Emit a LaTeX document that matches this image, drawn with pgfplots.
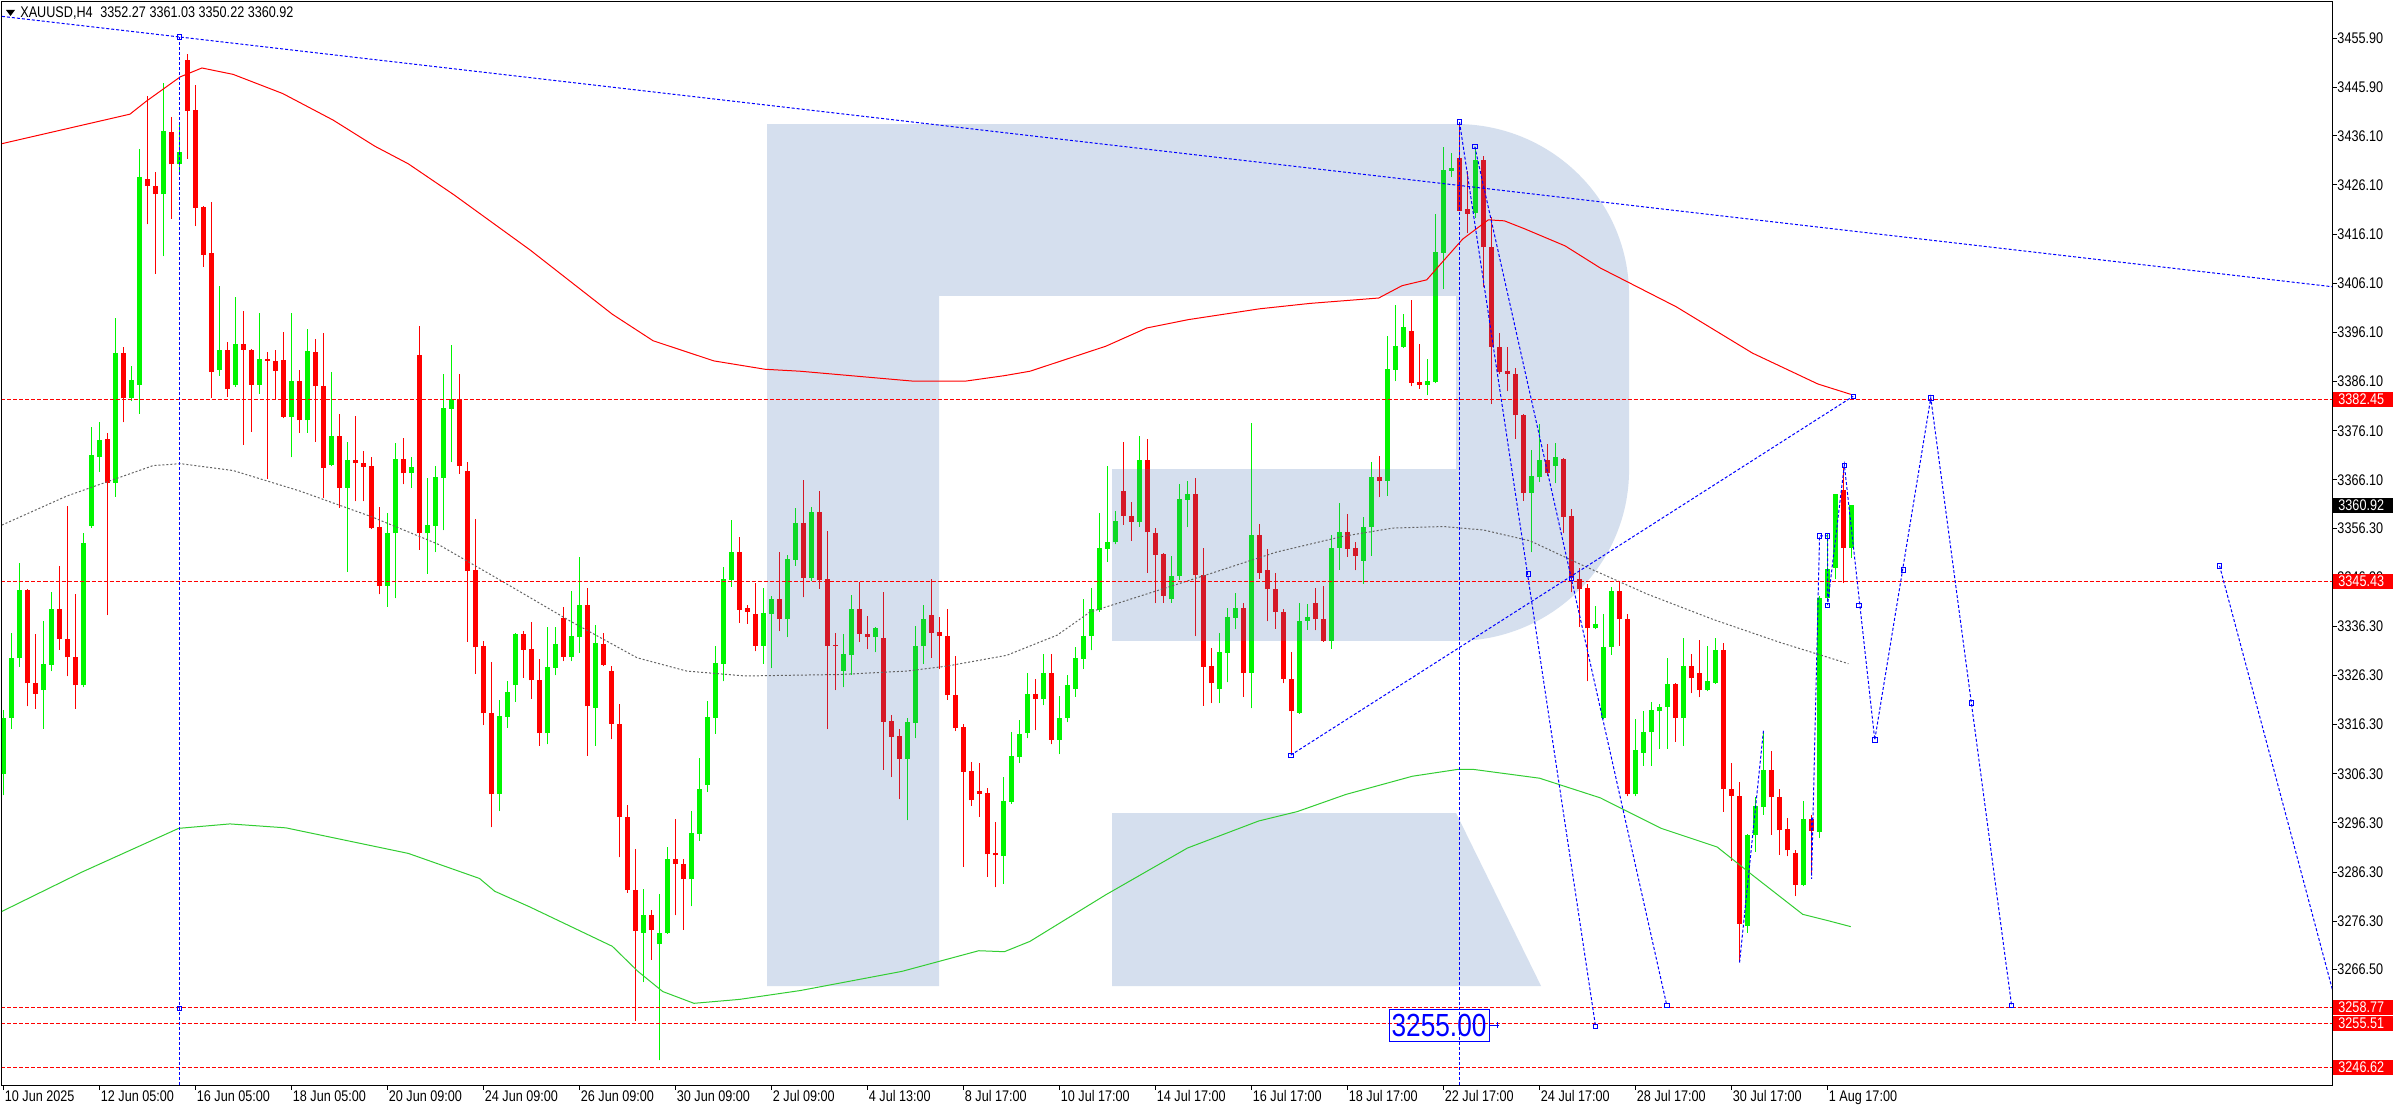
\documentclass[border=0pt]{standalone}
\usepackage{fontspec}
\setmainfont{Liberation Sans}
\newfontfamily\tickfont{Liberation Sans}[FakeStretch=0.82]
\usepackage{pgfplots}
\usepackage{pgfplotstable}
\pgfplotsset{compat=1.18}
\newcommand\tf{\tickfont\fontsize{7.7pt}{9pt}\selectfont}
\definecolor{cgreen}{RGB}{0,245,0}
\definecolor{cred}{RGB}{255,0,0}
\definecolor{logoblue}{RGB}{64,113,182}
\definecolor{bandgreen}{RGB}{50,205,50}
\definecolor{midgray}{RGB}{100,100,100}
\definecolor{lblue}{RGB}{0,0,255}
\pgfplotsset{candle/.style={only marks, mark size=0pt, mark options={draw=none, fill=none}}}

\pgfplotstableread{
i o h l c
0 3306.2 3319.3 3301.9 3317.7
1 3317.7 3334.9 3315.5 3329.9
2 3329.8 3349.2 3328.1 3343.7
3 3343.7 3343.9 3320.0 3324.7
4 3324.8 3334.8 3319.5 3322.6
5 3323.3 3337.4 3315.5 3328.6
6 3328.5 3343.3 3327.2 3339.9
7 3339.9 3348.6 3331.5 3333.7
8 3333.7 3360.8 3326.1 3330.0
9 3330.0 3342.9 3319.5 3324.3
10 3324.3 3355.3 3323.9 3353.2
11 3356.7 3376.8 3356.4 3371.1
12 3370.8 3377.9 3367.8 3374.2
13 3374.4 3375.7 3338.6 3365.5
14 3365.5 3399.0 3362.7 3392.0
15 3392.0 3393.1 3377.8 3382.7
16 3382.7 3389.3 3382.1 3386.5
17 3385.5 3433.4 3379.6 3427.7
18 3427.4 3444.3 3418.1 3425.9
19 3425.9 3428.7 3408.0 3424.2
20 3424.2 3446.9 3411.6 3437.1
21 3436.8 3439.9 3419.2 3430.3
22 3430.3 3439.0 3428.4 3432.9
23 3451.6 3452.8 3431.4 3441.2
24 3441.3 3446.4 3417.7 3421.5
25 3421.6 3421.8 3409.5 3411.9
26 3412.2 3422.6 3382.8 3388.0
27 3388.5 3405.5 3387.3 3392.6
28 3392.6 3394.2 3383.0 3384.5
29 3385.3 3403.3 3385.0 3393.7
30 3393.7 3400.5 3373.2 3392.6
31 3392.6 3392.8 3375.9 3385.5
32 3385.5 3400.0 3383.6 3390.7
33 3390.7 3392.1 3366.3 3390.3
34 3390.3 3392.6 3382.4 3388.2
35 3390.5 3396.2 3378.6 3378.9
36 3378.9 3400.0 3370.7 3386.2
37 3386.2 3388.5 3375.7 3378.2
38 3378.2 3396.8 3375.7 3392.3
39 3392.1 3394.8 3373.9 3385.1
40 3385.2 3395.9 3362.5 3368.6
41 3369.1 3388.1 3368.9 3375.1
42 3375.1 3379.5 3360.4 3364.5
43 3364.5 3373.9 3347.4 3370.2
44 3370.2 3379.1 3361.7 3369.5
45 3369.6 3371.9 3361.7 3368.7
46 3369.0 3370.7 3356.2 3356.4
47 3356.5 3360.5 3342.8 3344.6
48 3344.6 3359.4 3340.3 3355.2
49 3355.2 3373.7 3342.0 3370.3
50 3370.3 3374.6 3365.2 3367.4
51 3367.4 3370.7 3364.5 3368.8
52 3391.5 3397.5 3351.9 3355.2
53 3355.2 3366.4 3347.0 3357.0
54 3356.7 3369.0 3351.4 3366.7
55 3366.5 3387.7 3355.8 3380.7
56 3380.6 3393.5 3369.7 3382.5
57 3382.5 3387.7 3367.3 3368.9
58 3367.9 3369.8 3333.2 3347.6
59 3347.8 3358.1 3326.7 3332.0
60 3332.3 3333.3 3316.2 3318.6
61 3318.6 3329.1 3295.4 3302.1
62 3302.1 3321.4 3298.7 3318.1
63 3317.9 3325.1 3315.7 3322.9
64 3324.3 3334.9 3321.0 3334.7
65 3334.7 3335.4 3325.8 3331.5
66 3331.6 3337.2 3321.6 3325.3
67 3325.3 3329.7 3312.0 3314.5
68 3314.5 3336.1 3312.3 3328.1
69 3327.9 3336.1 3326.3 3332.7
70 3338.0 3340.3 3329.2 3330.1
71 3330.1 3343.4 3329.2 3334.3
72 3334.1 3350.4 3330.9 3340.6
73 3340.6 3344.1 3310.0 3320.0
74 3319.7 3336.5 3312.0 3332.9
75 3332.7 3335.0 3328.2 3328.5
76 3327.2 3328.2 3313.3 3316.5
77 3316.5 3320.5 3289.3 3297.5
78 3297.5 3299.9 3282.1 3282.7
79 3282.7 3291.0 3256.0 3274.3
80 3274.0 3282.8 3263.9 3277.5
81 3277.5 3278.5 3268.5 3274.5
82 3271.6 3281.8 3248.0 3274.0
83 3274.0 3291.4 3273.8 3289.0
84 3289.0 3297.0 3277.5 3287.9
85 3287.9 3289.0 3274.6 3284.8
86 3284.8 3298.8 3279.3 3294.3
87 3294.1 3309.6 3292.7 3303.3
88 3304.1 3321.2 3302.6 3317.8
89 3317.7 3332.3 3314.4 3328.8
90 3328.7 3348.3 3325.1 3346.0
91 3345.8 3357.9 3344.4 3351.4
92 3351.5 3354.4 3337.0 3339.7
93 3340.1 3340.7 3336.8 3339.3
94 3338.8 3345.1 3331.2 3332.4
95 3332.4 3344.1 3328.7 3339.0
96 3338.8 3342.5 3327.8 3341.9
97 3341.9 3351.4 3335.3 3337.7
98 3337.7 3350.8 3334.1 3350.0
99 3349.8 3360.3 3348.6 3357.3
100 3357.3 3366.0 3342.2 3346.1
101 3346.1 3360.5 3345.6 3359.5
102 3359.5 3363.9 3343.9 3345.7
103 3345.9 3355.7 3315.4 3332.4
104 3332.6 3335.0 3323.3 3332.3
105 3327.2 3334.8 3323.9 3330.6
106 3330.4 3342.7 3326.5 3339.9
107 3339.9 3345.4 3333.2 3334.7
108 3334.8 3338.4 3331.6 3334.1
109 3334.1 3336.1 3331.0 3336.0
110 3334.0 3343.2 3307.1 3316.9
111 3317.0 3318.3 3305.6 3313.8
112 3313.9 3315.5 3301.1 3309.4
113 3309.4 3317.7 3296.8 3316.8
114 3316.6 3336.3 3313.5 3332.4
115 3332.2 3340.7 3328.7 3337.8
116 3338.6 3345.9 3329.9 3335.0
117 3335.2 3338.2 3327.6 3334.3
118 3334.4 3339.9 3321.4 3322.3
119 3322.4 3330.2 3315.0 3315.6
120 3315.8 3316.4 3287.4 3306.7
121 3306.9 3308.7 3299.8 3300.9
122 3302.8 3308.5 3297.6 3302.2
123 3302.4 3303.4 3285.4 3289.9
124 3290.1 3296.5 3283.2 3289.7
125 3289.5 3305.6 3283.9 3300.7
126 3300.6 3314.9 3300.2 3309.9
127 3309.7 3317.2 3308.5 3314.4
128 3314.6 3326.8 3313.5 3322.6
129 3322.6 3325.5 3315.2 3321.5
130 3321.5 3330.6 3320.2 3326.9
131 3326.9 3330.6 3312.3 3313.2
132 3313.2 3322.1 3310.3 3317.7
133 3317.6 3326.4 3316.8 3324.3
134 3323.5 3332.0 3322.0 3329.9
135 3329.7 3341.9 3327.6 3334.4
136 3334.3 3344.1 3331.4 3339.9
137 3339.7 3359.4 3339.3 3352.2
138 3352.0 3369.0 3349.4 3353.5
139 3353.4 3359.7 3353.0 3357.7
140 3363.9 3373.9 3357.0 3358.8
141 3358.8 3361.5 3353.7 3357.6
142 3357.6 3375.0 3356.6 3370.2
143 3370.2 3374.5 3347.2 3355.4
144 3355.2 3356.3 3341.0 3350.9
145 3351.1 3351.3 3341.1 3342.5
146 3341.8 3350.7 3341.1 3346.5
147 3346.6 3365.3 3345.8 3362.2
148 3362.1 3365.8 3356.5 3363.3
149 3363.3 3366.4 3334.3 3346.7
150 3346.8 3352.3 3320.1 3328.1
151 3328.2 3331.9 3320.7 3324.7
152 3323.5 3334.9 3320.7 3331.1
153 3330.9 3340.0 3324.9 3338.2
154 3338.0 3343.1 3335.7 3340.0
155 3340.0 3341.1 3322.0 3326.8
156 3326.8 3377.6 3319.6 3354.8
157 3354.8 3357.2 3346.0 3347.1
158 3347.8 3352.1 3337.3 3343.8
159 3343.8 3347.1 3335.8 3339.3
160 3339.3 3339.8 3324.7 3325.6
161 3325.6 3331.1 3310.1 3319.0
162 3318.7 3341.1 3318.5 3337.4
163 3337.4 3340.9 3335.6 3338.2
164 3341.1 3344.1 3335.5 3337.7
165 3337.8 3344.5 3333.2 3333.3
166 3333.3 3354.8 3331.7 3352.3
167 3352.3 3361.3 3347.8 3355.5
168 3355.5 3359.2 3350.5 3352.1
169 3352.3 3353.5 3347.7 3350.7
170 3349.6 3358.6 3345.0 3356.6
171 3356.6 3369.8 3350.7 3366.6
172 3366.6 3370.9 3362.6 3365.9
173 3365.9 3395.3 3362.9 3388.7
174 3388.5 3401.6 3386.2 3393.3
175 3393.2 3399.8 3392.9 3397.3
176 3396.4 3402.7 3385.1 3385.9
177 3386.1 3393.7 3384.6 3385.5
178 3385.5 3390.6 3383.3 3386.2
179 3386.0 3420.2 3385.8 3412.5
180 3412.3 3433.8 3404.9 3429.1
181 3429.0 3432.6 3427.7 3429.6
182 3431.5 3438.9 3420.8 3420.9
183 3421.3 3428.9 3416.3 3420.2
184 3420.4 3433.9 3419.4 3431.1
185 3431.2 3432.0 3405.3 3413.4
186 3413.4 3419.5 3381.5 3393.2
187 3393.2 3396.0 3387.6 3388.1
188 3388.3 3393.2 3384.1 3387.7
189 3387.7 3388.9 3374.5 3379.2
190 3379.3 3379.5 3361.9 3363.4
191 3363.4 3372.1 3351.4 3366.9
192 3366.6 3377.4 3365.7 3370.2
193 3370.2 3373.3 3366.9 3367.4
194 3368.9 3373.5 3365.4 3370.7
195 3370.4 3370.6 3355.2 3358.5
196 3358.7 3360.1 3343.2 3346.1
197 3345.9 3348.2 3336.2 3343.9
198 3344.1 3344.9 3325.1 3335.9
199 3335.9 3340.4 3335.7 3336.8
200 3317.6 3338.9 3317.4 3332.1
201 3332.1 3344.4 3330.5 3343.5
202 3343.5 3345.5 3332.4 3337.7
203 3337.7 3338.9 3301.7 3302.1
204 3302.1 3317.5 3301.7 3311.1
205 3310.6 3319.0 3307.9 3314.7
206 3314.7 3321.0 3307.9 3319.2
207 3319.0 3320.5 3311.4 3319.9
208 3319.9 3329.9 3311.4 3324.5
209 3324.5 3324.7 3312.8 3317.6
210 3317.6 3333.9 3312.0 3328.3
211 3328.3 3330.7 3322.7 3325.7
212 3326.8 3333.6 3321.9 3323.3
213 3323.3 3332.4 3323.1 3325.2
214 3324.8 3333.9 3324.6 3331.5
215 3331.5 3333.0 3298.6 3303.2
216 3303.2 3308.5 3288.6 3301.8
217 3301.7 3304.6 3268.2 3275.8
218 3275.4 3294.0 3274.0 3293.9
219 3293.9 3301.5 3290.4 3299.7
220 3299.5 3314.9 3298.0 3307.0
221 3307.0 3311.0 3293.9 3301.5
222 3301.5 3303.2 3289.8 3294.8
223 3295.0 3297.4 3289.5 3290.7
224 3290.1 3290.7 3281.4 3283.7
225 3283.7 3300.7 3283.4 3297.0
226 3297.0 3298.0 3285.7 3294.7
227 3294.5 3342.4 3293.3 3342.0
228 3342.0 3355.2 3341.4 3347.9
229 3348.2 3363.3 3345.9 3363.3
230 3364.0 3368.6 3345.1 3352.3
231 3352.27 3361.03 3350.22 3360.92
}\candles

\begin{document}
\begin{tikzpicture}
\path[use as bounding box] (0,0) rectangle (1198pt,555pt);
\fill[white] (0,0) rectangle (1198pt,555pt);
\begin{axis}[
  at={(1pt,12.5pt)}, anchor=south west,
  scale only axis, width=1165pt, height=541.5pt,
  xmin=-0.1875, xmax=291.0625, ymin=3242.98, ymax=3463.326,
  axis line style={black, line width=0.5pt},
  xtick pos=left, ytick pos=right,
  tick align=outside, major tick length=2.5pt,
  tick style={black, line width=0.5pt},
  xtick={0,12,...,228},
  xticklabels={10 Jun 2025,12 Jun 05:00,16 Jun 05:00,18 Jun 05:00,20 Jun 09:00,24 Jun 09:00,26 Jun 09:00,30 Jun 09:00,2 Jul 09:00,4 Jul 13:00,8 Jul 17:00,10 Jul 17:00,14 Jul 17:00,16 Jul 17:00,18 Jul 17:00,22 Jul 17:00,24 Jul 17:00,28 Jul 17:00,30 Jul 17:00,1 Aug 17:00},
  xticklabel style={font=\tf, anchor=north west, inner sep=0pt, xshift=0.5pt},
  ytick={3455.90,3445.90,3436.10,3426.10,3416.10,3406.10,3396.10,3386.10,3376.10,3366.10,3356.30,3346.30,3336.30,3326.30,3316.30,3306.30,3296.30,3286.30,3276.30,3266.50},
  yticklabels={3455.90,3445.90,3436.10,3426.10,3416.10,3406.10,3396.10,3386.10,3376.10,3366.10,3356.30,3346.30,3336.30,3326.30,3316.30,3306.30,3296.30,3286.30,3276.30,3266.50},
  yticklabel pos=right,
  yticklabel style={font=\tf, anchor=west, inner sep=0pt},
]
% wicks
\addplot[cgreen, candle, error bars/.cd, y dir=plus, y explicit, error mark=none, error bar style={line width=0.5pt, cgreen}]
  table[x expr={\thisrow{c}>=\thisrow{o} ? \thisrow{i} : nan}, y=l, y error expr={\thisrow{h}-\thisrow{l}}] {\candles};
\addplot[cred, candle, error bars/.cd, y dir=plus, y explicit, error mark=none, error bar style={line width=0.5pt, cred}]
  table[x expr={\thisrow{c}<\thisrow{o} ? \thisrow{i} : nan}, y=l, y error expr={\thisrow{h}-\thisrow{l}}] {\candles};
% bodies
\addplot[cgreen, candle, error bars/.cd, y dir=plus, y explicit, error mark=none, error bar style={line width=2.5pt, cgreen}]
  table[x expr={\thisrow{c}>=\thisrow{o} ? \thisrow{i} : nan}, y expr={min(\thisrow{o},\thisrow{c})}, y error expr={max(abs(\thisrow{c}-\thisrow{o}),0.2)}] {\candles};
\addplot[cred, candle, error bars/.cd, y dir=plus, y explicit, error mark=none, error bar style={line width=2.5pt, cred}]
  table[x expr={\thisrow{c}<\thisrow{o} ? \thisrow{i} : nan}, y expr={min(\thisrow{o},\thisrow{c})}, y error expr={max(abs(\thisrow{c}-\thisrow{o}),0.2)}] {\candles};
% logo watermark
\fill[logoblue, fill opacity=0.22] (axis cs:95.4375,3438.50) -- (axis cs:181.5625,3438.50) .. controls (axis cs:193.5,3438.50) and (axis cs:203.1875,3422.92) .. (axis cs:203.1875,3403.71) -- (axis cs:203.1875,3368.11) .. controls (axis cs:203.1875,3348.90) and (axis cs:193.5,3333.32) .. (axis cs:181.5625,3333.32) -- (axis cs:138.5625,3333.32) -- (axis cs:138.5625,3368.31) -- (axis cs:181.5625,3368.31) -- (axis cs:181.5625,3403.51) -- (axis cs:116.9375,3403.51) -- (axis cs:116.9375,3263.12) -- (axis cs:95.4375,3263.12) -- cycle;
\fill[logoblue, fill opacity=0.22] (axis cs:138.5625,3298.32) -- (axis cs:181.5625,3298.32) -- (axis cs:192.1875,3263.12) -- (axis cs:138.5625,3263.12) -- cycle;
% indicator lines
\addplot[cred, line width=0.5pt] coordinates {(-0.2,3434.5) (15.8,3440.5) (17.9,3443.2) (22.1,3448.1) (24.8,3449.9) (28.7,3448.6) (34.9,3444.7) (41.2,3439.3) (46.4,3434.0) (50.6,3430.4) (56.3,3424.1) (65.8,3412.9) (76.1,3399.8) (81.2,3394.4) (88.8,3390.3) (95.2,3388.6) (99.6,3388.2) (105.9,3387.3) (113.6,3386.2) (120.3,3386.2) (125.1,3387.3) (128.3,3388.2) (137.8,3393.3) (142.9,3397.0) (148.1,3398.7) (157.0,3400.9) (163.3,3402.0) (171.9,3403.1) (174.8,3405.6) (177.9,3406.8) (179.9,3410.5) (182.4,3415.1) (185.6,3419.0) (187.6,3418.8) (190.1,3417.2) (195.2,3413.7) (199.6,3409.2) (209.1,3401.3) (218.6,3391.9) (226.8,3385.6) (230.9,3383.5)};
\addplot[midgray, line width=0.5pt, dash pattern=on 1pt off 1pt] coordinates {(-0.2,3356.9) (7.9,3362.8) (18.7,3369.0) (22.1,3369.4) (28.7,3368.0) (37.1,3363.8) (46.0,3358.6) (54.2,3353.1) (62.4,3345.4) (70.8,3337.4) (79.2,3329.9) (85.4,3327.2) (92.7,3326.2) (104.6,3326.5) (112.9,3327.2) (117.9,3328.2) (125.4,3330.4) (131.7,3334.5) (135.8,3339.2) (138.9,3340.8) (150.8,3347.0) (159.1,3351.4) (167.4,3354.6) (173.7,3356.3) (180.0,3356.6) (185.0,3355.9) (190.8,3353.7) (197.0,3349.0) (205.4,3342.9) (213.7,3337.7) (222.1,3333.0) (230.6,3328.7)};
\addplot[bandgreen, line width=0.5pt] coordinates {(-0.2,3278.3) (9.8,3286.3) (21.9,3295.2) (28.3,3296.1) (35.3,3295.3) (50.6,3290.1) (59.5,3285.0) (61.4,3282.4) (65.8,3279.2) (76.1,3271.2) (79.3,3266.1) (82.4,3262.0) (86.3,3259.6) (92.0,3260.4) (99.6,3262.2) (112.3,3266.1) (121.9,3270.3) (125.1,3270.1) (128.3,3272.2) (137.8,3281.7) (148.0,3291.2) (156.9,3296.7) (161.7,3298.6) (167.8,3302.1) (176.1,3305.8) (181.8,3307.2) (183.7,3307.2) (192.0,3305.4) (199.6,3301.4) (207.2,3295.2) (214.2,3291.4) (218.6,3285.7) (224.9,3277.7) (228.1,3276.4) (230.9,3275.2)};
% horizontal levels
\addplot[cred, line width=0.5pt, dash pattern=on 2pt off 1pt] coordinates {(-1,3382.45) (292,3382.45)};
\addplot[cred, line width=0.5pt, dash pattern=on 2pt off 1pt] coordinates {(-1,3345.43) (292,3345.43)};
\addplot[cred, line width=0.5pt, dash pattern=on 2pt off 1pt] coordinates {(-1,3258.77) (292,3258.77)};
\addplot[cred, line width=0.5pt, dash pattern=on 2pt off 1pt] coordinates {(-1,3255.51) (292,3255.51)};
\addplot[cred, line width=0.5pt, dash pattern=on 2pt off 1pt] coordinates {(-1,3246.62) (292,3246.62)};
% blue analysis lines
\addplot[lblue, line width=0.5pt, dash pattern=on 1.5pt off 1pt] coordinates {(-0.19,3460.4) (291.06,3405.4)};
\addplot[lblue, line width=0.5pt, dash pattern=on 1.5pt off 1pt] coordinates {(22,3456.2) (22,3242)};
\addplot[lblue, line width=0.5pt, dash pattern=on 1.5pt off 1pt] coordinates {(182,3438.9) (182,3242)};
\addplot[lblue, line width=0.5pt, dash pattern=on 1.5pt off 1pt] coordinates {(182,3438.9) (199.0,3254.9)};
\addplot[lblue, line width=0.5pt, dash pattern=on 1.5pt off 1pt] coordinates {(183.9,3433.9) (207.9,3259.2)};
\addplot[lblue, line width=0.5pt, dash pattern=on 1.5pt off 1pt] coordinates {(160.9,3310.1) (231.2,3383.1)};
\addplot[lblue, line width=0.5pt, dash pattern=on 1.5pt off 1pt] coordinates {(217.0,3267.9) (220.0,3315.3)};
\addplot[lblue, line width=0.5pt, dash pattern=on 1.5pt off 1pt] coordinates {(226.0,3297.4) (226.0,3284.9) (227.0,3354.7) (228.0,3354.7) (228.0,3340.6) (230.1,3369.1) (233.9,3313.2) (240.9,3382.8) (251.0,3259.2)};
\addplot[lblue, line width=0.5pt, dash pattern=on 1.5pt off 1pt] coordinates {(277.0,3348.6) (291.1,3262.4)};
\addplot[lblue, only marks, mark=square, mark size=1.1pt, mark options={line width=0.4pt, fill=white, solid}] coordinates {(22,3456.2) (22,3258.6) (182,3438.9) (183.9,3433.9) (190.6,3347.0) (199.0,3254.9) (196.0,3346.1) (207.9,3259.2) (160.9,3310.1) (231.2,3383.1) (227.0,3354.7) (228.0,3354.7) (228.0,3340.6) (230.1,3369.1) (231.9,3340.6) (233.9,3313.2) (237.5,3347.8) (240.9,3382.8) (246.0,3320.7) (251.0,3259.2) (277.0,3348.6)};
\end{axis}
% overlays in image pixel coordinates
\begin{scope}[x=0.5pt, y=-0.5pt, shift={(0pt,555pt)}]
  \fill[black] (6,10) -- (15,10) -- (10.5,16) -- cycle;
  \node[anchor=west, inner sep=0pt, font=\tf] at (20,13) {XAUUSD,H4\enspace 3352.27 3361.03 3350.22 3360.92};
  \node[draw=lblue, line width=0.5pt, text=lblue, inner sep=0pt, minimum width=50pt, minimum height=16pt, font=\tickfont\fontsize{16pt}{18pt}\selectfont] at (1439,1025) {3255.00};
  \draw[lblue, line width=0.5pt] (1489,1025) -- (1499,1025) (1497,1022) -- (1497,1028);
  \newcommand\pricebox[3]{\fill[#2] (2333,#1-7.5) rectangle (2393,#1+7.5); \node[anchor=west, text=white, font=\tf, inner sep=0pt] at (2338,#1) {#3};}
  \pricebox{399.5}{cred}{3382.45}
  \pricebox{505.3}{black}{3360.92}
  \pricebox{581.5}{cred}{3345.43}
  \pricebox{1007.4}{cred}{3258.77}
  \pricebox{1023.4}{cred}{3255.51}
  \pricebox{1067.1}{cred}{3246.62}
\end{scope}
\end{tikzpicture}
\end{document}
